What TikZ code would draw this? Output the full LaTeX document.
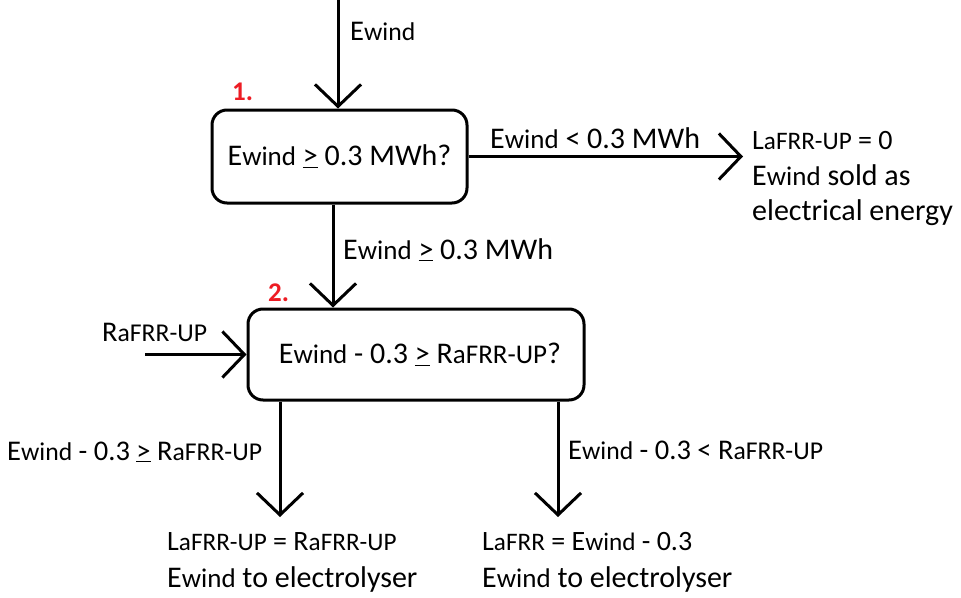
\documentclass[tikz,border=0pt]{standalone}
\usepackage{fontspec}
\setmainfont{Carlito}
\newfontfamily\smfont[Scale=0.9]{Carlito}
\usetikzlibrary{arrows.meta,calc}
\newcommand{\sm}[1]{{\smfont #1}}
\newcommand{\gequ}{\underline{>}}
\definecolor{numred}{RGB}{237,28,36}
\tikzset{
  arr/.style={line width=3pt, -{Straight Barb[length=22pt,width=46pt]}},
  box/.style={draw, line width=3pt, rounded corners=15pt, inner sep=0pt, font=\fontsize{30}{36}\selectfont},
  lblA/.style={anchor=base west, inner sep=0pt, font=\fontsize{30}{36}\selectfont},
  lblB/.style={anchor=base west, inner sep=0pt, font=\fontsize{28.5}{34}\selectfont},
  lblC/.style={anchor=base west, inner sep=0pt, font=\fontsize{28}{34}\selectfont},
  num/.style={anchor=base west, inner sep=0pt, text=numred, font=\fontsize{27}{30}\selectfont\bfseries},
}
\begin{document}
\begin{tikzpicture}[x=1pt,y=-1pt]
\useasboundingbox (0,0) rectangle (961,597);
% boxes
\node[box, minimum width=255pt, minimum height=93pt] (b1) at (339.5,156.5) {E\sm{wind} \gequ{} 0.3 MWh?};
\node[box, minimum width=336pt, minimum height=91pt] (b2) at (416,354.5) {\hspace{8pt}E\sm{wind} - 0.3 \gequ{} R\sm{aFRR-UP}?};
% free ends
\coordinate (src) at (338,0);
\coordinate (mx) at (333,0);
\coordinate (ra) at (145,354.5);
\coordinate (o1) at (743,156.5);
\coordinate (o2) at (280,517);
\coordinate (o3) at (558,517);
% connectors
\draw[arr] (src) -- (src |- b1.north);
\draw[arr] (b1.east) -- (o1);
\draw[arr] (mx |- b1.south) -- (mx |- b2.north);
\draw[arr] (ra) -- (b2.west);
\draw[arr] (o2 |- b2.south) -- (o2);
\draw[arr] (o3 |- b2.south) -- (o3);
% labels
\node[lblB] (l0) at (350,40) {E\sm{wind}};
\node[num] (n1) at (232,100) {1.};
\node[lblA] (l1) at (490,148) {E\sm{wind} < 0.3 MWh};
\node[lblC] (r1) at (752,149) {L\sm{aFRR-UP} = 0};
\node[lblA] (r2) at (752,185) {E\sm{wind} sold as};
\node[lblA] (r3) at (752,220) {electrical energy};
\node[lblA] (l2) at (343,259) {E\sm{wind} \gequ{} 0.3 MWh};
\node[num] (n2) at (268,301) {2.};
\node[lblB] (l3) at (102,341) {R\sm{aFRR-UP}};
\node[lblB] (l4) at (7,460) {E\sm{wind} - 0.3 \gequ{} R\sm{aFRR-UP}};
\node[lblB] (l5) at (568,459) {E\sm{wind} - 0.3 < R\sm{aFRR-UP}};
\node[lblC] (b3a) at (167,550) {L\sm{aFRR-UP} = R\sm{aFRR-UP}};
\node[lblA] (b3b) at (167,587) {E\sm{wind} to electrolyser};
\node[lblC] (b4a) at (482,550) {L\sm{aFRR} = E\sm{wind} - 0.3};
\node[lblA] (b4b) at (482,587) {E\sm{wind} to electrolyser};
\end{tikzpicture}
\end{document}
